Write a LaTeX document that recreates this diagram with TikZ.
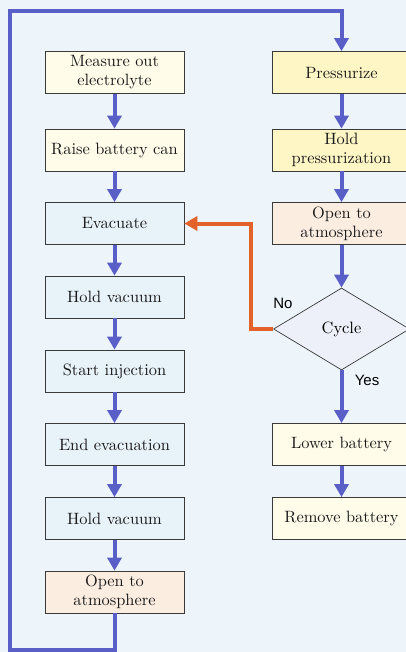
\documentclass[tikz,border=0pt]{standalone}
\usepackage{fontspec}
\newfontfamily\labelfont{Liberation Sans}
\newfontfamily\boxfont{lmroman10-regular.otf}
\usetikzlibrary{shapes.geometric,arrows.meta}
\definecolor{bgc}{HTML}{EDF4FA}
\definecolor{ylt}{HTML}{FFFDE9}
\definecolor{yst}{HTML}{FFF6C6}
\definecolor{blb}{HTML}{E8F2F9}
\definecolor{pch}{HTML}{FCEDE1}
\definecolor{dia}{HTML}{EEF0F9}
\definecolor{flow}{HTML}{5A5FC8}
\definecolor{back}{HTML}{E3622A}
\definecolor{edge}{HTML}{3A3A3A}
\tikzset{
  stepbox/.style={draw=edge, line width=0.7pt, minimum width=139pt, minimum height=42pt,
    align=center, inner sep=0pt, text=black!90, font=\boxfont\fontsize{16.4}{19}\selectfont},
  decision/.style={diamond, draw=edge, line width=0.7pt, fill=dia, minimum width=136pt,
    minimum height=82pt, inner sep=0pt, aspect=1.63, font=\boxfont\fontsize{16.4}{19}\selectfont},
  flowline/.style={draw=flow, line width=4pt, -{Triangle[length=13pt,width=14pt]}},
  backline/.style={draw=back, line width=4pt, -{Triangle[length=13pt,width=14pt]}},
  lab/.style={font=\labelfont\fontsize{15}{17}\selectfont, inner sep=0pt}
}
\begin{document}
\begin{tikzpicture}[x=1pt,y=-1pt]
\fill[bgc] (0,0) rectangle (406,652);
\useasboundingbox (0,0) rectangle (406,652);
\clip (0,0) rectangle (406,652);
% left column
\node[stepbox, fill=ylt] (l1) at (114.5,72.5) {Measure out\\electrolyte};
\node[stepbox, fill=ylt] (l2) at (114.5,150) {Raise battery can};
\node[stepbox, fill=blb] (l3) at (114.5,223.5) {Evacuate};
\node[stepbox, fill=blb] (l4) at (114.5,297) {Hold vacuum};
\node[stepbox, fill=blb] (l5) at (114.5,371) {Start injection};
\node[stepbox, fill=blb] (l6) at (114.5,444.5) {End evacuation};
\node[stepbox, fill=blb] (l7) at (114.5,518.5) {Hold vacuum};
\node[stepbox, fill=pch] (l8) at (114.5,592) {Open to\\atmosphere};
% right column
\node[stepbox, fill=yst] (r1) at (341.5,72.5) {Pressurize};
\node[stepbox, fill=yst] (r2) at (341.5,150) {Hold\\pressurization};
\node[stepbox, fill=pch] (r3) at (341.5,223.5) {Open to\\atmosphere};
\node[decision] (d) at (341.5,329) {Cycle};
\node[stepbox, fill=ylt] (r4) at (341.5,444.5) {Lower battery};
\node[stepbox, fill=ylt] (r5) at (341.5,518.5) {Remove battery};
% coordinates of the loop
\coordinate (bl) at (10,650);
\coordinate (tl) at (10,11);
\coordinate (tr) at (341.5,11);
\coordinate (bm) at (114.5,650);
\coordinate (ok) at (251,329);
\coordinate (ou) at (251,223.5);
% flow arrows
\draw[flowline] (l1) -- (l2);
\draw[flowline] (l2) -- (l3);
\draw[flowline] (l3) -- (l4);
\draw[flowline] (l4) -- (l5);
\draw[flowline] (l5) -- (l6);
\draw[flowline] (l6) -- (l7);
\draw[flowline] (l7) -- (l8);
\draw[flowline, line join=miter] (l8.south) -- (bm) -- (bl) -- (tl) -- (tr) -- (r1.north);
\draw[flowline] (r1) -- (r2);
\draw[flowline] (r2) -- (r3);
\draw[flowline] (r3) -- (d.north);
\draw[flowline] (d.south) -- (r4);
\draw[flowline] (r4) -- (r5);
\draw[backline, line join=miter] (d.west) -- (ok) -- (ou) -- (l3.east);
\node[lab] (no) at (283,303) {No};
\node[lab] (yes) at (367,380) {Yes};
\end{tikzpicture}
\end{document}
